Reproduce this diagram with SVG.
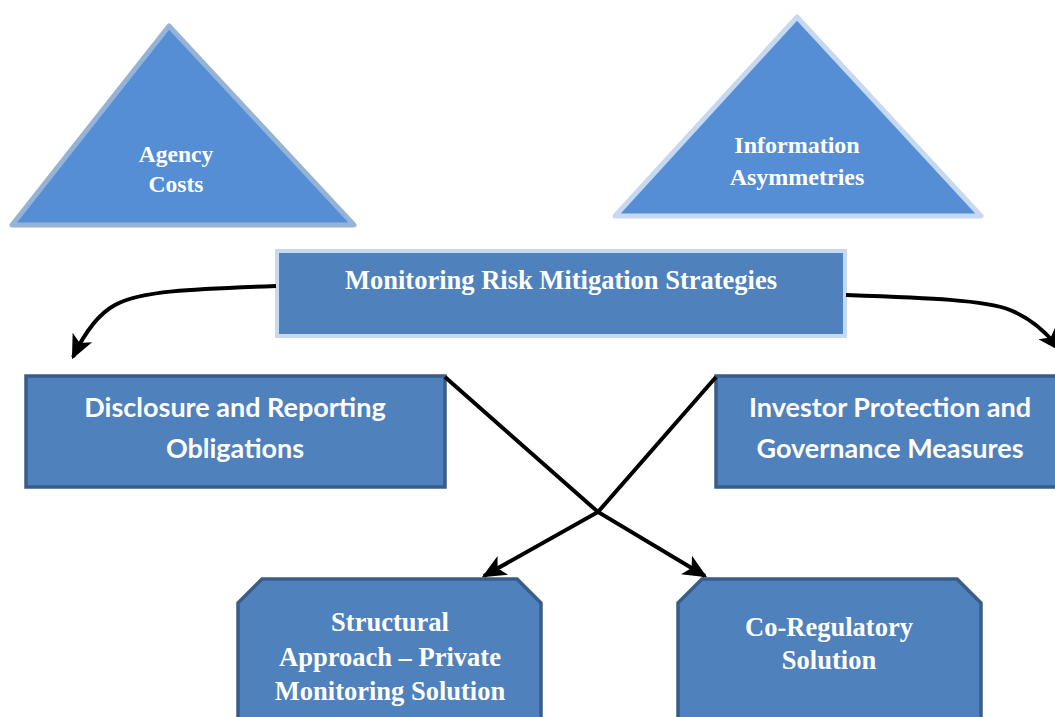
<svg xmlns="http://www.w3.org/2000/svg" width="1055" height="717" viewBox="0 0 1055 717">
<defs>
<marker id="ah2" viewBox="0 0 10 10" refX="9" refY="5" markerWidth="24" markerHeight="24" orient="auto" markerUnits="userSpaceOnUse">
<path d="M0,0.5 L10,5 L0,9.5 L2.5,5 Z" fill="#000"/>
</marker>
</defs>
<style>
.tri1{fill:#558ed5;stroke:#95b3d7;stroke-width:5;stroke-linejoin:round}
.tri2{fill:#558ed5;stroke:#c6d9f1;stroke-width:5;stroke-linejoin:round}
.main{fill:#4f81bd;stroke:#c6d9f1;stroke-width:4}
.box{fill:#4f81bd;stroke:#385d8a;stroke-width:3.5}
.serif{font-family:"Liberation Serif","Times New Roman",serif;font-weight:bold;fill:#fff;text-anchor:middle}
.sans{font-family:Lato,"Open Sans","Liberation Sans",sans-serif;font-weight:bold;fill:#fff;text-anchor:middle;font-size:27px}
.con{fill:none;stroke:#000;stroke-width:4;marker-end:url(#ah2)}
</style>
<g id="agency-costs">
<polygon class="tri1" points="169,26 354,225 12,225"/>
<text class="serif" font-size="23.5" x="176" y="162">Agency</text>
<text class="serif" font-size="23.5" x="176" y="192">Costs</text>
</g>
<g id="information-asymmetries">
<polygon class="tri2" points="797,17 981,216 615,216"/>
<text class="serif" font-size="24" x="797" y="153">Information</text>
<text class="serif" font-size="24" x="797" y="185">Asymmetries</text>
</g>
<g id="monitoring">
<rect class="main" x="277" y="251" width="568" height="85"/>
<text class="serif" font-size="26.5" x="561" y="289">Monitoring Risk Mitigation Strategies</text>
</g>
<g id="disclosure">
<rect class="box" x="26" y="376" width="419" height="111"/>
<text class="sans" x="235" y="417">Disclosure and Reporting</text>
<text class="sans" x="235" y="458">Obligations</text>
</g>
<g id="investor">
<rect class="box" x="716" y="376" width="345" height="111"/>
<text class="sans" x="890" y="417">Investor Protection and</text>
<text class="sans" x="890" y="458">Governance Measures</text>
</g>
<g id="structural">
<polygon class="box" points="262,579 517,579 541,603 541,730 238,730 238,603"/>
<text class="serif" font-size="26.5" x="390" y="631">Structural</text>
<text class="serif" font-size="26.5" x="390" y="666">Approach – Private</text>
<text class="serif" font-size="26.5" x="390" y="700">Monitoring Solution</text>
</g>
<g id="co-regulatory">
<polygon class="box" points="702,579 957,579 981,603 981,730 678,730 678,603"/>
<text class="serif" font-size="26.5" x="829" y="636">Co-Regulatory</text>
<text class="serif" font-size="26.5" x="829" y="669">Solution</text>
</g>
<g id="connectors">
<path class="con" d="M276,286 C190,289 140,291 115,305 C100,313 86,330 73,357"/>
<path class="con" d="M846,295 C930,298 985,300 1010,310 C1030,318 1045,330 1060,350"/>
<path class="con" d="M445,377 L598,512 L705,576"/>
<path class="con" d="M716,377 L598,512 L484,576"/>
</g>
</svg>
